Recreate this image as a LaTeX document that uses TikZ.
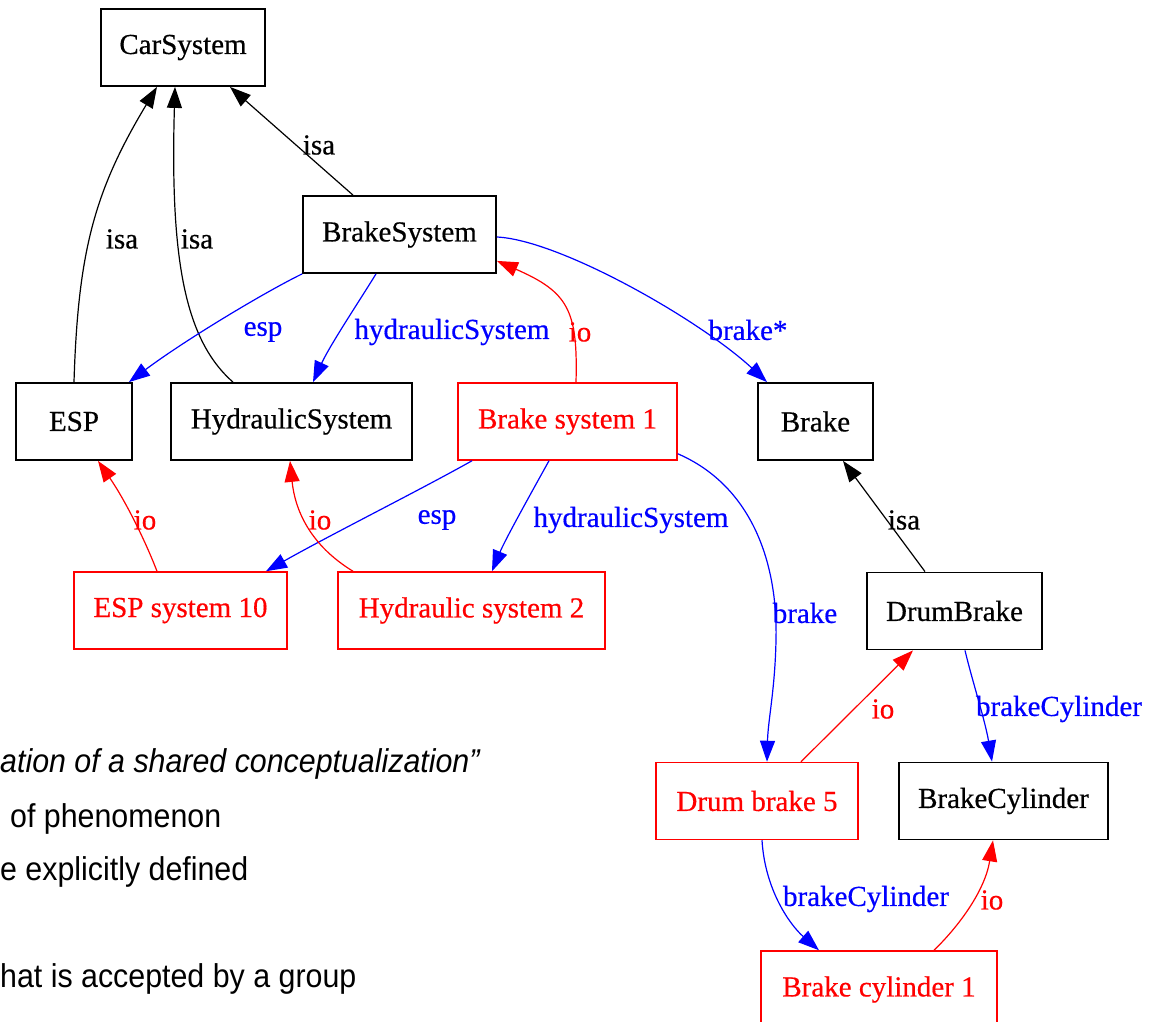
\documentclass[tikz,border=0pt]{standalone}
\usepackage{fontspec}
\setmainfont{Liberation Serif}
\newfontfamily\graphfont[FakeBold=0.5]{Liberation Serif}
\newfontfamily\slidefont[FakeStretch=0.92]{Liberation Sans}
\usetikzlibrary{arrows.meta}

\definecolor{relblue}{RGB}{0,0,255}
\definecolor{insred}{RGB}{255,0,0}

\tikzset{
  concept/.style={draw=black, line width=1.8pt, minimum height=77pt, inner sep=0pt,
    font=\graphfont\fontsize{29}{34}\selectfont, text=black},
  instance/.style={concept, draw=insred, line width=1.5pt, text=insred},
  edge/.style={line width=1.2pt, -{Triangle[length=21pt,width=15pt]}},
  isaedge/.style={edge, draw=black},
  reledge/.style={edge, draw=relblue},
  ioedge/.style={edge, draw=insred},
  lbl/.style={font=\graphfont\fontsize{29}{34}\selectfont, inner sep=0pt},
  isalbl/.style={lbl, text=black},
  rellbl/.style={lbl, text=relblue},
  iolbl/.style={lbl, text=insred},
  slide/.style={font=\slidefont\fontsize{33}{38}\selectfont, inner sep=0pt, anchor=base west}
}

\begin{document}
\begin{tikzpicture}[x=1pt, y=-1pt]
\path[use as bounding box, fill=white] (0,0) rectangle (1149,1021);

% classes (black) and instances (red)
\node[concept,  minimum width=164pt] (car)   at (183,47.5)   {CarSystem};
\node[concept,  minimum width=193pt] (bsys)  at (399.5,234.5) {BrakeSystem};
\node[concept,  minimum width=116pt] (esp)   at (74,421.5)   {ESP};
\node[concept,  minimum width=241pt] (hs)    at (291.5,421.5) {HydraulicSystem};
\node[instance, minimum width=219pt] (bs1)   at (567.5,421.5) {Brake system 1};
\node[concept,  minimum width=115pt] (brake) at (815.5,421.5) {Brake};
\node[instance, minimum width=213pt] (esp10) at (180.5,610.5) {ESP system 10};
\node[instance, minimum width=267pt] (hs2)   at (471.5,610.5) {Hydraulic system 2};
\node[concept,  minimum width=175pt] (db)    at (954.5,611)   {DrumBrake};
\node[instance, minimum width=202pt] (db5)   at (757,801)     {Drum brake 5};
\node[concept,  minimum width=209pt] (bc)    at (1003.5,801)  {BrakeCylinder};
\node[instance, minimum width=236pt] (bc1)   at (879,989.5)   {Brake cylinder 1};

% isa edges
\draw[isaedge] (esp.north) .. controls (78,250) and (95,190) .. ([xshift=-26pt]car.south);
\draw[isaedge] ([xshift=-58.5pt]hs.north) .. controls (185,340) and (170,260) .. ([xshift=-8pt]car.south);
\draw[isaedge] ([xshift=-46.5pt]bsys.north) -- ([xshift=47pt]car.south);
\draw[isaedge] ([xshift=-29.5pt]db.north) -- ([xshift=27.5pt]brake.south);

% relations between classes
\draw[reledge] (bsys.south west) .. controls (265,292) and (185,340) .. ([xshift=-4pt]esp.north east);
\draw[reledge] ([xshift=-23.5pt]bsys.south) .. controls (360,300) and (330,345) .. ([xshift=21.5pt]hs.north);
\draw[reledge] ([yshift=-2.5pt]bsys.east) .. controls (560,240) and (700,320) .. ([xshift=-48.5pt]brake.north);
\draw[reledge] ([xshift=10.5pt]db.south) .. controls (972,680) and (985,720) .. ([xshift=-11.5pt]bc.north);

% relations between instances
\draw[reledge] ([xshift=-95.5pt]bs1.south) .. controls (420,490) and (330,535) .. ([xshift=85.5pt]esp10.north);
\draw[reledge] ([xshift=-18.5pt]bs1.south) .. controls (530,495) and (505,540) .. ([xshift=20.5pt]hs2.north);
\draw[reledge] ([yshift=7pt]bs1.south east) .. controls (750,485) and (778,560) .. (776,640)
               .. controls (775,690) and (768,720) .. ([xshift=10pt]db5.north);
\draw[reledge] ([xshift=5pt]db5.south) .. controls (765,890) and (790,925) .. ([xshift=-60pt]bc1.north);

% instance-of edges
\draw[ioedge] ([xshift=8.5pt]bs1.north) .. controls (578,310) and (568,292) .. ([yshift=13pt]bsys.south east);
\draw[ioedge] ([xshift=-23.5pt]esp10.north) .. controls (145,540) and (125,500) .. ([xshift=24pt]esp.south);
\draw[ioedge] ([xshift=-118.5pt]hs2.north) .. controls (310,545) and (295,510) .. ([xshift=-1.5pt]hs.south);
\draw[ioedge] ([xshift=44pt]db5.north) -- ([xshift=-41.5pt]db.south);
\draw[ioedge] ([xshift=55pt]bc1.north) .. controls (960,925) and (985,890) .. ([xshift=-10.5pt]bc.south);

% edge labels
\node[isalbl] (l1)  at (122,239) {isa};
\node[isalbl] (l2)  at (197,239) {isa};
\node[isalbl] (l3)  at (319,145) {isa};
\node[isalbl] (l4)  at (904,520) {isa};
\node[rellbl] (l5)  at (263,332) {esp};
\node[rellbl] (l6)  at (452,332) {hydraulicSystem};
\node[iolbl]  (l7)  at (580,332) {io};
\node[rellbl] (l8)  at (748,330) {brake*};
\node[rellbl] (l9)  at (437,520) {esp};
\node[rellbl] (l10) at (631,520) {hydraulicSystem};
\node[iolbl]  (l11) at (145,520) {io};
\node[iolbl]  (l12) at (320,520) {io};
\node[rellbl] (l13) at (805,613) {brake};
\node[iolbl]  (l14) at (883,709) {io};
\node[rellbl] (l15) at (1059,709) {brakeCylinder};
\node[rellbl] (l16) at (866,899) {brakeCylinder};
\node[iolbl]  (l17) at (992,900) {io};

% slide text behind the graph
\node[slide] (s1) at (0,772) {\itshape ation of a shared conceptualization”};
\node[slide] (s2) at (10,827) {of phenomenon};
\node[slide] (s3) at (0,880) {e explicitly defined};
\node[slide] (s4) at (0,987) {hat is accepted by a group};
\end{tikzpicture}
\end{document}
